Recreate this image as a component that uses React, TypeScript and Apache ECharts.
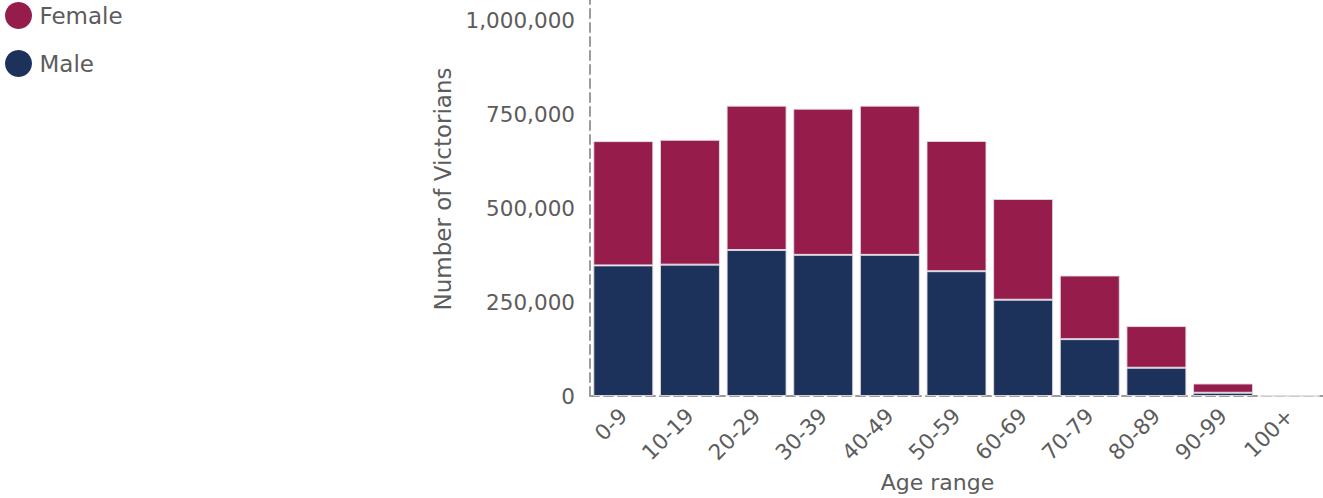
import React, { useEffect, useRef } from "react";
import * as echarts from "echarts";

const categories = ["0-9", "10-19", "20-29", "30-39", "40-49", "50-59", "60-69", "70-79", "80-89", "90-99", "100+"];
const maleValues = [348000, 350000, 389000, 376000, 376000, 332500, 256500, 151500, 75300, 8700, 300];
const femaleValues = [331000, 332500, 384500, 389500, 397500, 347000, 268500, 169500, 111000, 24600, 1200];
const yTicks = [0, 250000, 500000, 750000, 1000000];

const FONT = "DejaVu Sans";
const TEXT = "#5c5c5c";

export default function App() {
  const ref = useRef<HTMLDivElement>(null);
  useEffect(() => {
    document.body.style.margin = "0";
    document.body.style.overflow = "hidden";
    const chart = echarts.init(ref.current!, null, { renderer: "svg" });
    const barBorder = { borderColor: "rgba(225,220,230,0.9)", borderWidth: 1 };
    chart.setOption({
      animation: false,
      textStyle: { fontFamily: FONT },
      legend: {
        data: ["Female", "Male"],
        orient: "vertical",
        left: 5,
        top: 2,
        padding: 0,
        icon: "circle",
        itemWidth: 30,
        itemHeight: 27,
        itemGap: 21,
        itemStyle: { borderWidth: 0 },
        textStyle: { fontFamily: FONT, fontSize: 23, color: TEXT, padding: [0, 0, 0, 1] },
      },
      grid: { left: 590, right: 0, top: 0, bottom: 96.5 },
      xAxis: {
        type: "category",
        data: categories,
        name: "Age range",
        nameLocation: "middle",
        nameGap: 75,
        nameTextStyle: { fontFamily: FONT, fontSize: 22, color: TEXT, padding: [0, 38, 0, 0] },
        axisLine: { lineStyle: { color: "#9c9c9c", width: 2, type: [9, 5] } },
        axisTick: { show: false },
        axisLabel: { rotate: 45, margin: 16, fontFamily: FONT, fontSize: 21.5, color: TEXT, padding: [26, 0, 0, 0] },
      },
      yAxis: {
        type: "value",
        min: yTicks[0],
        max: 1055000,
        interval: yTicks[1] - yTicks[0],
        name: "Number of Victorians",
        nameLocation: "middle",
        nameGap: 128,
        nameTextStyle: { fontFamily: FONT, fontSize: 23, color: TEXT, padding: [0, 0, 0, 18] },
        splitLine: { show: false },
        axisTick: { show: false },
        axisLine: { show: true, lineStyle: { color: "#9c9c9c", width: 2, type: [9, 5] } },
        axisLabel: {
          showMaxLabel: false,
          margin: 15,
          fontFamily: FONT,
          fontSize: 21.5,
          color: TEXT,
          padding: [0, 0, 14, 0],
          formatter: (v: number) => v.toLocaleString("en-US"),
        },
      },
      series: [
        {
          name: "Male",
          type: "bar",
          stack: "total",
          data: maleValues,
          barCategoryGap: "10%",
          itemStyle: { color: "#1c325b", ...barBorder },
        },
        {
          name: "Female",
          type: "bar",
          stack: "total",
          data: femaleValues,
          barCategoryGap: "10%",
          itemStyle: { color: "#951c4b", ...barBorder },
        },
      ],
    });
    return () => chart.dispose();
  }, []);
  return <div ref={ref} style={{ position: "absolute", left: 0, top: 0, width: 1323, height: 498 }} />;
}
